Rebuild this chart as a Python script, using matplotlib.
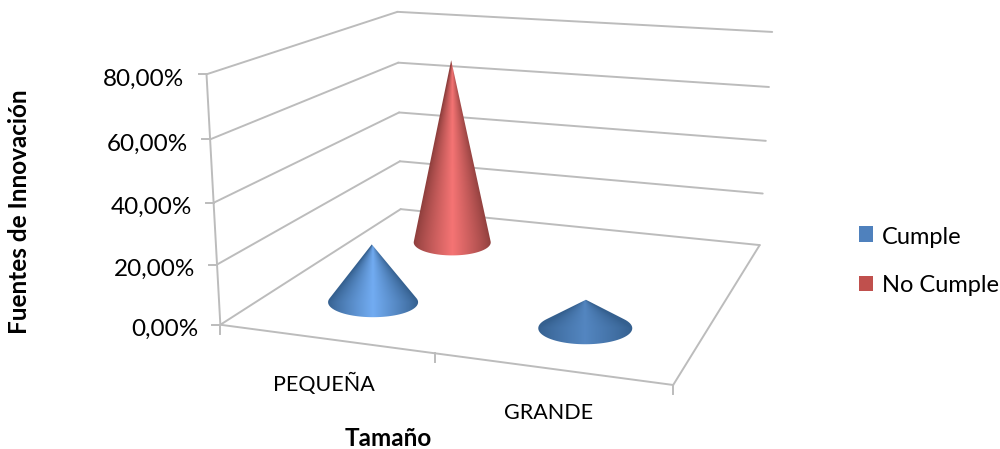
import numpy as np
import matplotlib
matplotlib.use('Agg')
import matplotlib.pyplot as plt
from matplotlib.colors import to_rgb
from matplotlib.patches import Polygon, Rectangle

# datos
categorias = ['PEQUEÑA', 'GRANDE']
series = ['Cumple', 'No Cumple']
cumple = [20.0, 9.5]
no_cumple = [69.0, 0.0]
niveles = [0, 20, 40, 60, 80]

color_serie = ['#4f81bd', '#c0504d']
oscuro = ['#35608f', '#8f3f3d']
claro = ['#72acf2', '#f57474']
gris = '#bcbcbc'

plt.rcParams['font.family'] = ['Lato', 'DejaVu Sans']

# calibracion de la proyeccion: esquinas (cat, serie, valor) -> pixel
esquinas = [(0, 0, 0), (2, 0, 0), (2, 2, 0), (0, 2, 0), (0, 0, 80), (0, 2, 80), (2, 2, 80)]
pixeles = [(221, 325), (673, 385), (760, 245), (400, 209), (206, 74), (398, 12), (772, 32)]

A, b = [], []
for (u, v, w), (px, py) in zip(esquinas, pixeles):
    A.append([u, v, w, 1, 0, 0, 0, 0, -px * u, -px * v, -px * w])
    A.append([0, 0, 0, 0, u, v, w, 1, -py * u, -py * v, -py * w])
    b += [px, py]
P = np.append(np.linalg.lstsq(np.array(A, float), np.array(b, float), rcond=None)[0], 1).reshape(3, 4)


def proy(u, v, w):
    x, y, z = P @ np.array([u, v, w, 1.0])
    return x / z, y / z


def linea(ax, p1, p2, lw=1.4):
    ax.plot([p1[0], p2[0]], [p1[1], p2[1]], color=gris, lw=lw, solid_capstyle='round')


def cono(ax, cat, ser, valor, semi_a, semi_b, ganancia=1.0):
    cx, cy = proy(cat + 0.5, ser + 0.5, 0)
    px, py = proy(cat + 0.5, ser + 0.5, valor)
    # silueta: vertice + arco frontal de la base
    t0 = np.arcsin(-semi_b / (cy - py))
    ang = np.linspace(t0, np.pi - t0, 80)
    sil = [(px, py)] + [(cx + semi_a * np.cos(a), cy + semi_b * np.sin(a)) for a in ang]

    # degradado que converge hacia el vertice
    x0, x1 = cx - semi_a - 2, cx + semi_a + 2
    y0, y1 = py - 2, cy + semi_b + 2
    nx, ny = int((x1 - x0) * 3), int((y1 - y0) * 3)
    xx, yy = np.meshgrid(np.linspace(x0, x1, nx), np.linspace(y0, y1, ny))
    ancho = semi_a * np.clip((yy - py) / (cy - py), 0.02, 1)
    s = 1 - np.clip(np.abs(xx - cx) / ancho, 0, 1)
    s = (s ** 0.85 * ganancia)[..., None]
    c1 = np.array(to_rgb(oscuro[ser]))
    c2 = np.array(to_rgb(claro[ser]))
    im = ax.imshow(c1 + (c2 - c1) * s, extent=(x0, x1, y1, y0), aspect='auto',
                   interpolation='bilinear', zorder=3)
    im.set_clip_path(Polygon(sil, closed=True, transform=ax.transData))


fig = plt.figure(figsize=(10, 4.49), dpi=100)
ax = fig.add_axes([0, 0, 1, 1])
ax.axis('off')

# paredes y suelo
for n in niveles:
    linea(ax, proy(0, 0, n), proy(0, 2, n))
    linea(ax, proy(0, 2, n), proy(2, 2, n))
linea(ax, proy(0, 0, 0), proy(0, 0, 80))
linea(ax, proy(0, 0, 0), proy(2, 0, 0))
linea(ax, proy(2, 0, 0), proy(2, 2, 0))

# marcas de los ejes
for n in niveles:
    x, y = proy(0, 0, n)
    ax.plot([x - 8, x], [y, y], color=gris, lw=1.4)
    ax.text(x - 22, y + 5, f'{n:.2f}%'.replace('.', ','), ha='right', va='center', fontsize=17.5, color='black')
for u in range(3):
    x, y = proy(u, 0, 0)
    ax.plot([x, x], [y, y + 9], color=gris, lw=1.4)

# conos, del fondo hacia delante
cono(ax, 0, 1, no_cumple[0], 38.5, 13)
cono(ax, 0, 0, cumple[0], 45, 15)
cono(ax, 1, 0, cumple[1], 47, 16, 0.5)

ax.text(324, 384, categorias[0], ha='center', va='center', fontsize=15.5)
ax.text(549, 413, categorias[1], ha='center', va='center', fontsize=15.5)
ax.text(388, 438, 'Tamaño', ha='center', va='center', fontsize=17.5, fontweight='bold')
ax.text(20, 212, 'Fuentes de Innovación', ha='center', va='center', rotation=90, fontsize=17.5, fontweight='bold')

# leyenda
for i, nombre in enumerate(series):
    y = 234 + 49.5 * i
    ax.add_patch(Rectangle((859, y - 8), 14, 15.5, facecolor=color_serie[i], edgecolor='none'))
    ax.text(882, y + 3 - 1.5 * i, nombre, ha='left', va='center', fontsize=17)

ax.set_xlim(0, 1000)
ax.set_ylim(449, 0)
fig.savefig('out.png', dpi=100)
